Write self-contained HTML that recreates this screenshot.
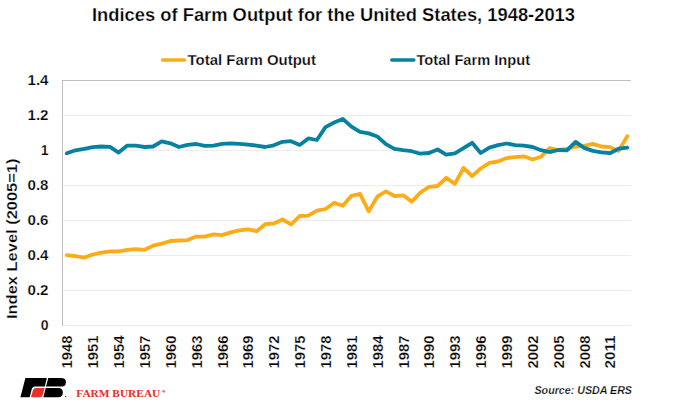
<!DOCTYPE html>
<html><head><meta charset="utf-8">
<style>
html,body{margin:0;padding:0;background:#fff;}
body{width:677px;height:406px;overflow:hidden;}
svg{display:block;}
text{font-family:"Liberation Sans",sans-serif;font-weight:bold;fill:#000;stroke:#fff;stroke-width:0.25px;}
.tk{font-size:14px;}
.xt{font-size:13.8px;}
</style></head>
<body>
<svg width="677" height="406" viewBox="0 0 677 406">
<rect x="0" y="0" width="677" height="406" fill="#fff"/>
<text x="92" y="21" font-size="17.5" textLength="483" lengthAdjust="spacingAndGlyphs">Indices of Farm Output for the United States, 1948-2013</text>
<line x1="162.6" y1="60" x2="184.4" y2="60" stroke="#fdab16" stroke-width="3.5" stroke-linecap="round"/>
<text x="187.5" y="65" font-size="14" textLength="128.5" lengthAdjust="spacingAndGlyphs">Total Farm Output</text>
<line x1="391.8" y1="60" x2="413.8" y2="60" stroke="#0781a1" stroke-width="3.5" stroke-linecap="round"/>
<text x="416.5" y="65" font-size="14" textLength="113.5" lengthAdjust="spacingAndGlyphs">Total Farm Input</text>
<line x1="62" y1="325.5" x2="631" y2="325.5" stroke="#ececec" stroke-width="1"/>
<line x1="62" y1="290.5" x2="631" y2="290.5" stroke="#ececec" stroke-width="1"/>
<line x1="62" y1="255.5" x2="631" y2="255.5" stroke="#ececec" stroke-width="1"/>
<line x1="62" y1="220.5" x2="631" y2="220.5" stroke="#ececec" stroke-width="1"/>
<line x1="62" y1="185.5" x2="631" y2="185.5" stroke="#ececec" stroke-width="1"/>
<line x1="62" y1="150.5" x2="631" y2="150.5" stroke="#ececec" stroke-width="1"/>
<line x1="62" y1="115.5" x2="631" y2="115.5" stroke="#ececec" stroke-width="1"/>
<line x1="62" y1="80.5" x2="631" y2="80.5" stroke="#bfbfbf" stroke-width="1"/>
<line x1="62.5" y1="80" x2="62.5" y2="326" stroke="#bfbfbf" stroke-width="1"/>
<text x="48.5" y="330" text-anchor="end" class="tk">0</text>
<text x="48.5" y="295" text-anchor="end" class="tk" textLength="21" lengthAdjust="spacingAndGlyphs">0.2</text>
<text x="48.5" y="260" text-anchor="end" class="tk" textLength="21" lengthAdjust="spacingAndGlyphs">0.4</text>
<text x="48.5" y="225" text-anchor="end" class="tk" textLength="21" lengthAdjust="spacingAndGlyphs">0.6</text>
<text x="48.5" y="190" text-anchor="end" class="tk" textLength="21" lengthAdjust="spacingAndGlyphs">0.8</text>
<text x="48.5" y="155" text-anchor="end" class="tk">1</text>
<text x="48.5" y="120" text-anchor="end" class="tk" textLength="21" lengthAdjust="spacingAndGlyphs">1.2</text>
<text x="48.5" y="85" text-anchor="end" class="tk" textLength="21" lengthAdjust="spacingAndGlyphs">1.4</text>
<text transform="translate(17.4,319) rotate(-90)" font-size="15" textLength="160.5" lengthAdjust="spacingAndGlyphs">Index Level (2005=1)</text>
<text transform="translate(72.3,335.5) rotate(-90)" text-anchor="end" class="xt" textLength="33" lengthAdjust="spacingAndGlyphs">1948</text>
<text transform="translate(98.2,335.5) rotate(-90)" text-anchor="end" class="xt" textLength="33" lengthAdjust="spacingAndGlyphs">1951</text>
<text transform="translate(124.0,335.5) rotate(-90)" text-anchor="end" class="xt" textLength="33" lengthAdjust="spacingAndGlyphs">1954</text>
<text transform="translate(149.9,335.5) rotate(-90)" text-anchor="end" class="xt" textLength="33" lengthAdjust="spacingAndGlyphs">1957</text>
<text transform="translate(175.8,335.5) rotate(-90)" text-anchor="end" class="xt" textLength="33" lengthAdjust="spacingAndGlyphs">1960</text>
<text transform="translate(201.6,335.5) rotate(-90)" text-anchor="end" class="xt" textLength="33" lengthAdjust="spacingAndGlyphs">1963</text>
<text transform="translate(227.5,335.5) rotate(-90)" text-anchor="end" class="xt" textLength="33" lengthAdjust="spacingAndGlyphs">1966</text>
<text transform="translate(253.4,335.5) rotate(-90)" text-anchor="end" class="xt" textLength="33" lengthAdjust="spacingAndGlyphs">1969</text>
<text transform="translate(279.2,335.5) rotate(-90)" text-anchor="end" class="xt" textLength="33" lengthAdjust="spacingAndGlyphs">1972</text>
<text transform="translate(305.1,335.5) rotate(-90)" text-anchor="end" class="xt" textLength="33" lengthAdjust="spacingAndGlyphs">1975</text>
<text transform="translate(330.9,335.5) rotate(-90)" text-anchor="end" class="xt" textLength="33" lengthAdjust="spacingAndGlyphs">1978</text>
<text transform="translate(356.8,335.5) rotate(-90)" text-anchor="end" class="xt" textLength="33" lengthAdjust="spacingAndGlyphs">1981</text>
<text transform="translate(382.7,335.5) rotate(-90)" text-anchor="end" class="xt" textLength="33" lengthAdjust="spacingAndGlyphs">1984</text>
<text transform="translate(408.5,335.5) rotate(-90)" text-anchor="end" class="xt" textLength="33" lengthAdjust="spacingAndGlyphs">1987</text>
<text transform="translate(434.4,335.5) rotate(-90)" text-anchor="end" class="xt" textLength="33" lengthAdjust="spacingAndGlyphs">1990</text>
<text transform="translate(460.3,335.5) rotate(-90)" text-anchor="end" class="xt" textLength="33" lengthAdjust="spacingAndGlyphs">1993</text>
<text transform="translate(486.1,335.5) rotate(-90)" text-anchor="end" class="xt" textLength="33" lengthAdjust="spacingAndGlyphs">1996</text>
<text transform="translate(512.0,335.5) rotate(-90)" text-anchor="end" class="xt" textLength="33" lengthAdjust="spacingAndGlyphs">1999</text>
<text transform="translate(537.9,335.5) rotate(-90)" text-anchor="end" class="xt" textLength="33" lengthAdjust="spacingAndGlyphs">2002</text>
<text transform="translate(563.7,335.5) rotate(-90)" text-anchor="end" class="xt" textLength="33" lengthAdjust="spacingAndGlyphs">2005</text>
<text transform="translate(589.6,335.5) rotate(-90)" text-anchor="end" class="xt" textLength="33" lengthAdjust="spacingAndGlyphs">2008</text>
<text transform="translate(615.4,335.5) rotate(-90)" text-anchor="end" class="xt" textLength="33" lengthAdjust="spacingAndGlyphs">2011</text>
<polyline points="66.9,255.2 75.5,256.2 84.2,257.6 92.8,254.5 101.4,252.6 110.0,251.3 118.6,251.3 127.3,249.8 135.9,249.2 144.5,249.8 153.1,245.7 161.7,243.6 170.4,241.0 179.0,240.5 187.6,240.1 196.2,236.6 204.8,236.6 213.5,234.3 222.1,235.1 230.7,232.4 239.3,230.3 248.0,229.3 256.6,231.2 265.2,224.2 273.8,223.5 282.4,219.5 291.1,224.4 299.7,216.0 308.3,215.6 316.9,210.7 325.5,209.0 334.2,202.9 342.8,205.8 351.4,195.8 360.0,193.8 368.7,211.4 377.3,196.6 385.9,191.3 394.5,196.0 403.1,195.3 411.8,201.6 420.4,192.5 429.0,186.8 437.6,186.0 446.2,177.8 454.9,183.9 463.5,168.0 472.1,176.1 480.7,168.5 489.4,162.9 498.0,161.5 506.6,158.1 515.2,157.2 523.8,156.3 532.5,159.5 541.1,156.7 549.7,148.2 558.3,150.0 566.9,148.9 575.6,146.5 584.2,145.8 592.8,143.9 601.4,146.5 610.0,147.2 618.7,150.9 627.3,136.2" fill="none" stroke="#fdab16" stroke-width="3.8" stroke-linejoin="round" stroke-linecap="round"/>
<polyline points="66.9,153.3 75.5,150.3 84.2,148.9 92.8,147.2 101.4,146.5 110.0,146.8 118.6,152.6 127.3,145.6 135.9,145.6 144.5,147.0 153.1,146.5 161.7,141.4 170.4,143.3 179.0,147.0 187.6,144.8 196.2,144.0 204.8,145.8 213.5,145.6 222.1,143.9 230.7,143.3 239.3,143.9 248.0,144.6 256.6,145.6 265.2,147.0 273.8,145.3 282.4,141.8 291.1,141.2 299.7,144.9 308.3,138.4 316.9,140.0 325.5,127.1 334.2,122.5 342.8,118.9 351.4,126.6 360.0,131.8 368.7,133.4 377.3,136.5 385.9,144.2 394.5,148.9 403.1,150.2 411.8,151.2 420.4,153.7 429.0,153.0 437.6,149.5 446.2,154.6 454.9,153.3 463.5,148.2 472.1,142.8 480.7,153.0 489.4,147.6 498.0,145.1 506.6,143.5 515.2,145.1 523.8,145.6 532.5,147.0 541.1,150.2 549.7,152.1 558.3,150.0 566.9,150.3 575.6,141.9 584.2,147.9 592.8,150.9 601.4,152.3 610.0,153.2 618.7,148.6 627.3,147.6" fill="none" stroke="#0781a1" stroke-width="3.8" stroke-linejoin="round" stroke-linecap="round"/>
<g>
<path d='M25.4,378.1 L46.9,378.1 L44.8,386.6 L34.8,386.6 Q32.4,386.6 31.7,389.2 L29.7,397.3 L20.4,397.3 Z' fill='#000'/><path d='M36.2,388 L44.7,388 L42.6,395.2 Q42,397.3 39.8,397.3 L30.9,397.3 L32.9,390.4 Q33.6,388 36.2,388 Z' fill='#e8302a'/><path d='M48.3,378.1 L61.2,378.1 Q65.9,378.1 65.9,382.2 Q65.9,386.6 61.8,386.6 L46,386.6 Z' fill='#000'/><path d='M45.7,388.1 L58.6,388.1 Q62.8,388.1 62.8,392.6 Q62.8,397.3 58.4,397.3 L43.3,397.3 Z' fill='#000'/><circle cx='65.6' cy='396.4' r='0.7' fill='#444'/>
</g>
<text x="76.3" y="397" font-size="10.5" style="font-family:'Liberation Serif',serif;fill:#e8302a;font-weight:bold;stroke:none" textLength="84" lengthAdjust="spacingAndGlyphs">FARM BUREAU</text>
<circle cx="163.6" cy="391.3" r="1.4" fill="#ef7b78"/>
<text x="534.5" y="393.6" font-size="11" font-style="italic" textLength="97.5" lengthAdjust="spacingAndGlyphs">Source: USDA ERS</text>
</svg>
</body></html>
